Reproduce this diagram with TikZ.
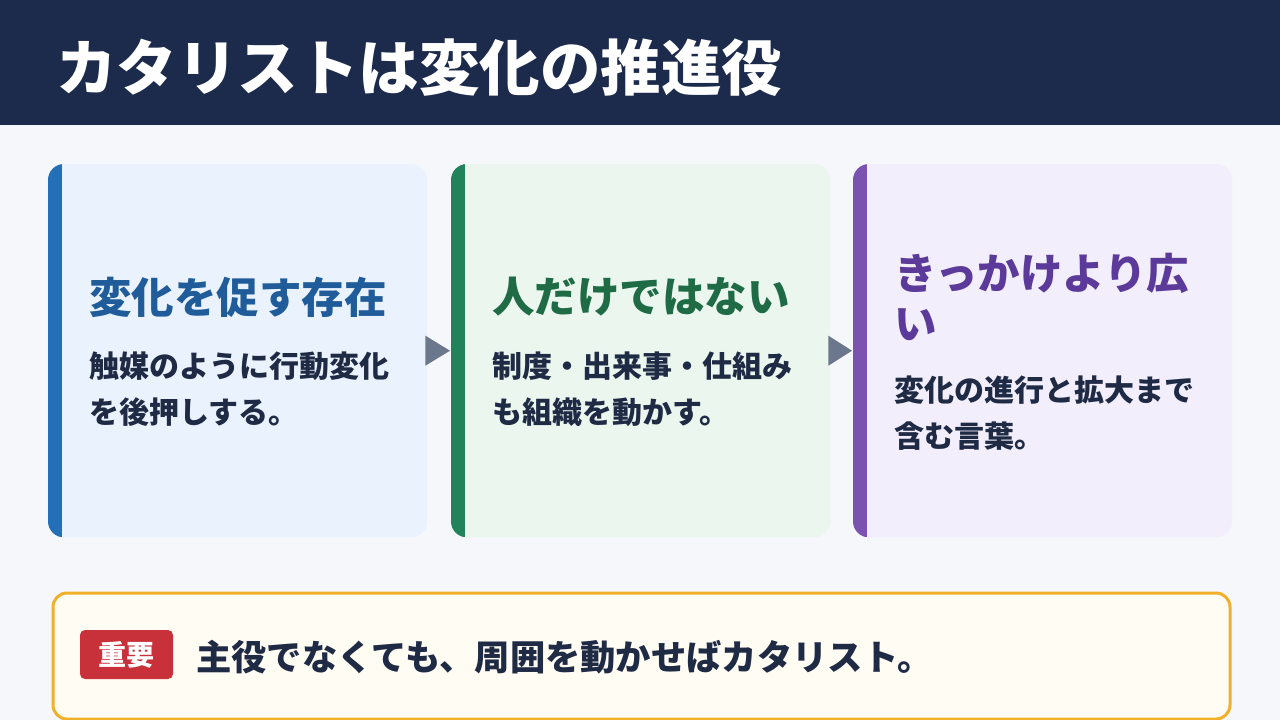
\documentclass[tikz,border=0pt]{standalone}
\usepackage{fontspec}
\setmainfont{Noto Sans CJK JP}
\definecolor{hdr}{HTML}{1C2A4B}
\definecolor{pagebg}{HTML}{F5F7FB}
\definecolor{fillA}{HTML}{EAF2FE}
\definecolor{fillB}{HTML}{EAF6EE}
\definecolor{fillC}{HTML}{F2EEFC}
\definecolor{accA}{HTML}{2470B8}
\definecolor{accB}{HTML}{22835A}
\definecolor{accC}{HTML}{7B52B0}
\definecolor{ttlA}{HTML}{1F5C99}
\definecolor{ttlB}{HTML}{1E6B45}
\definecolor{ttlC}{HTML}{5B3A9A}
\definecolor{bodytxt}{HTML}{1F2A44}
\definecolor{arrowc}{HTML}{6B778D}
\definecolor{noteborder}{HTML}{F0B02A}
\definecolor{notefill}{HTML}{FFFCF4}
\definecolor{badge}{HTML}{C8303A}
\tikzset{
  cardbox/.style={rounded corners=16pt, minimum width=379pt, minimum height=373pt, inner sep=0pt, draw=none},
  cardtitle/.style={anchor=west, inner sep=0pt, align=left, font=\fontsize{42.5}{50}\selectfont\bfseries},
  cardbody/.style={anchor=west, inner sep=0pt, align=left, text=bodytxt, font=\fontsize{30}{46.5}\selectfont\bfseries},
  tri/.style={fill=arrowc},
}
\begin{document}
\begin{tikzpicture}[x=1pt,y=-1pt]
\fill[pagebg] (0,0) rectangle (1280,720);
\useasboundingbox (0,0) rectangle (1280,720);
% header
\fill[hdr] (0,0) rectangle (1280,125);
\node[anchor=west, inner sep=0pt, text=white, font=\fontsize{60.5}{70}\selectfont\bfseries] (title) at (56,68) {カタリストは変化の推進役};
% cards
\node[cardbox, fill=fillA, anchor=north west] (c1) at (48,164) {};
\node[cardbox, fill=fillB, anchor=north west] (c2) at (451,164) {};
\node[cardbox, fill=fillC, anchor=north west] (c3) at (853,164) {};
\foreach \c/\col in {c1/accA, c2/accB, c3/accC}{
  \begin{scope}
    \clip[rounded corners=16pt] (\c.north west) rectangle (\c.south east);
    \fill[\col] (\c.north west) rectangle ([xshift=14pt]\c.south west);
  \end{scope}
}
% arrows
\fill[tri] ([xshift=-2pt,yshift=-15pt]c1.east) -- ([xshift=-2pt,yshift=15pt]c1.east) -- ([xshift=-1pt]c2.west) -- cycle;
\fill[tri] ([xshift=-2pt,yshift=-15pt]c2.east) -- ([xshift=-2pt,yshift=15pt]c2.east) -- ([xshift=-1pt]c3.west) -- cycle;
% card texts
\node[cardtitle, text=ttlA] (t1) at (89,297) {変化を促す存在};
\node[cardbody] (b1) at (89,389) {触媒のように行動変化\\を後押しする。};
\node[cardtitle, text=ttlB] (t2) at (492,297) {人だけではない};
\node[cardbody] (b2) at (492,389) {制度・出来事・仕組み\\も組織を動かす。};
\node[cardtitle, text=ttlC] (t3) at (894,297) {きっかけより広\\い};
\node[cardbody] (b3) at (894,413) {変化の進行と拡大まで\\含む言葉。};
% note
\node[draw=noteborder, line width=3pt, fill=notefill, rounded corners=14pt, minimum width=1177pt, minimum height=126pt, anchor=north west, inner sep=0pt] (note) at (51.5,591.5) {};
\node[fill=badge, rounded corners=5pt, minimum width=93pt, minimum height=49pt, inner sep=0pt, text=white, font=\fontsize{28}{32}\selectfont\bfseries] (imp) at (126.5,654.5) {重要};
\node[anchor=west, inner sep=0pt, text=bodytxt, font=\fontsize{35.3}{40}\selectfont\bfseries] (msg) at (196,657) {主役でなくても、周囲を動かせばカタリスト。};
\end{tikzpicture}
\end{document}
